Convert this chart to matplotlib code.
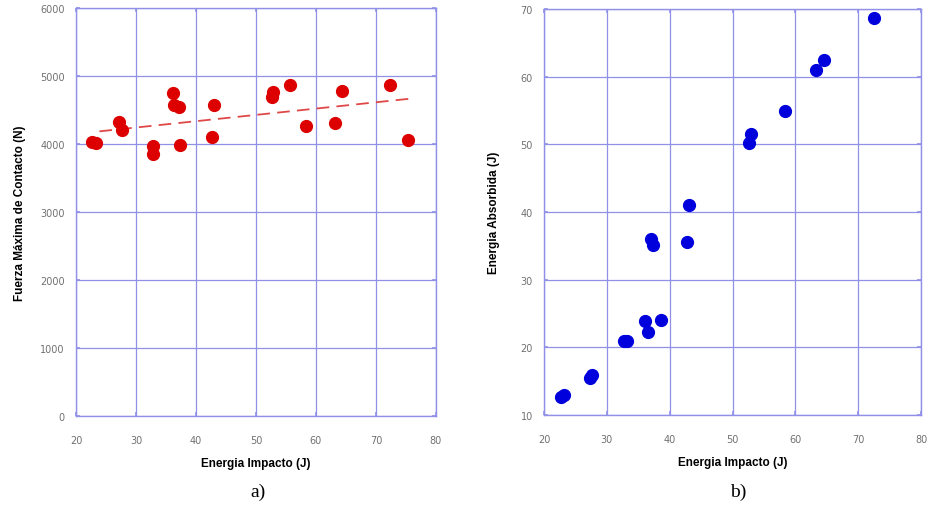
import matplotlib.pyplot as plt

# a) Fuerza maxima de contacto vs energia de impacto
energia_a = [22.6, 23.3, 27.2, 27.6, 32.8, 32.9, 36.1, 36.3, 37.2, 37.4,
             43.0, 42.7, 52.6, 52.8, 55.6, 58.3, 63.2, 64.4, 72.3, 75.3]
fuerza = [4034, 4020, 4319, 4211, 3975, 3848, 4750, 4578, 4544, 3990,
          4574, 4103, 4696, 4760, 4872, 4270, 4314, 4784, 4872, 4054]
tend_x = [23.9, 76.3]
tend_y = [4186, 4672]

# b) Energia absorbida vs energia de impacto
energia_b = [72.5, 64.6, 63.3, 58.4, 52.9, 52.7, 43.1, 37.1, 37.3, 42.8,
             36.1, 38.7, 36.6, 32.7, 33.2, 27.6, 27.4, 22.7, 23.2]
absorbida = [68.7, 62.4, 61.0, 55.0, 51.5, 50.2, 41.0, 36.0, 35.1, 35.5,
             23.9, 24.0, 22.3, 21.0, 21.0, 15.9, 15.4, 12.7, 12.9]

grid_col = '#9090e8'
W, H = 927, 506

fig = plt.figure(figsize=(W / 100, H / 100), dpi=100)
fig.patch.set_facecolor('white')


def estilo(ax, yticks):
    ax.set_xlim(20, 80)
    ax.set_xticks(range(20, 81, 10))
    ax.set_yticks(yticks)
    ax.set_ylim(yticks[0], yticks[-1])
    ax.grid(True, color=grid_col, linewidth=0.9)
    ax.set_axisbelow(True)
    for s in ax.spines.values():
        s.set_color(grid_col)
        s.set_linewidth(1.0)
    ax.tick_params(direction='in', length=3, color=grid_col, width=1.2,
                   labelsize=7, labelcolor='#707070',
                   top=True, right=True)
    ax.tick_params(axis='y', pad=8)
    ax.tick_params(axis='x', pad=14)


ax1 = fig.add_axes([76 / W, (H - 417) / H, 360 / W, 408 / H])
estilo(ax1, list(range(0, 6001, 1000)))
ax1.plot(energia_a, fuerza, 'o', color='#dd0000', markersize=8.5, zorder=3)
ax1.plot(tend_x, tend_y, '--', color='#e04848', linewidth=1.3, dashes=(7, 4), zorder=2)
ax1.set_xlabel('Energia Impacto (J)', fontsize=8.5, fontweight='bold',
               family='Liberation Sans', labelpad=8)
ax1.set_ylabel('Fuerza Máxima de Contacto (N)', fontsize=8.5, fontweight='bold',
               family='Liberation Sans', labelpad=10)

ax2 = fig.add_axes([544 / W, (H - 416) / H, 377 / W, 406 / H])
estilo(ax2, list(range(10, 71, 10)))
ax2.plot(energia_b, absorbida, 'o', color='#0000dd', markersize=8.5, zorder=3)
ax2.set_xlabel('Energia Impacto (J)', fontsize=8.5, fontweight='bold',
               family='Liberation Sans', labelpad=8)
ax2.set_ylabel('Energia Absorbida (J)', fontsize=8.5, fontweight='bold',
               family='Liberation Sans', labelpad=15)

fig.text(258 / W, 1 - 492 / H, 'a)', ha='center', va='center',
         fontsize=14, family='Liberation Serif')
fig.text(738 / W, 1 - 492 / H, 'b)', ha='center', va='center',
         fontsize=14, family='Liberation Serif')

fig.savefig('out.png', dpi=100)
